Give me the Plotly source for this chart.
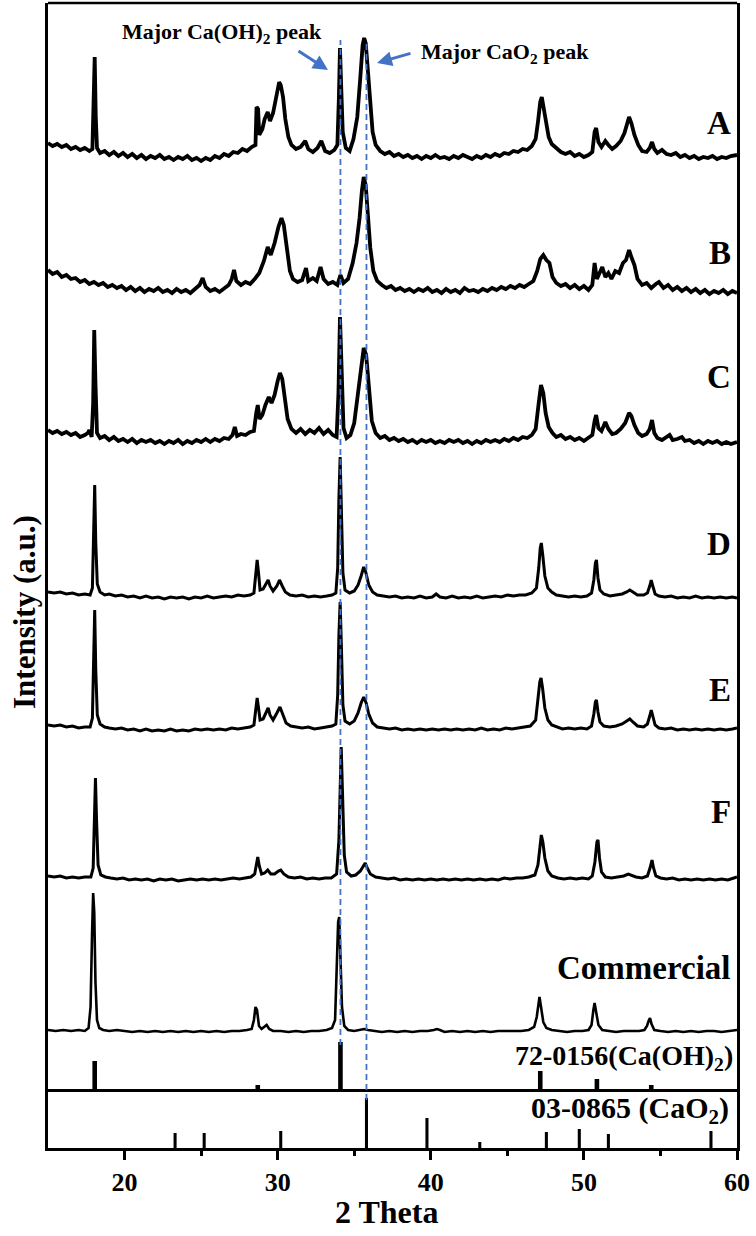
import plotly.graph_objects as go

# ---------------- data ----------------
NAMES = ["A", "B", "C", "D", "E", "F", "Commercial"]

A_pts = [(15.0,14),(15.3,11),(15.6,13),(15.9,10),(16.2,12),(16.5,8),(16.8,10),(17.1,7),(17.4,9),(17.7,6),(17.9,8),(17.98,45),(18.05,100),(18.12,40),(18.2,9),(18.4,4),(18.7,6),(19.0,2),(19.3,5),(19.6,1),(19.9,4),(20.2,0),(20.5,3),(20.8,-1),(21.1,2),(21.4,-2),(21.7,1),(22.0,-1),(22.3,2),(22.6,-2),(22.9,0),(23.2,-3),(23.5,0),(23.8,-2),(24.1,1),(24.4,-3),(24.7,-1),(25.0,-4),(25.3,-1),(25.6,-3),(25.9,1),(26.2,-1),(26.5,3),(26.8,1),(27.1,5),(27.4,4),(27.7,8),(28.0,6),(28.3,10),(28.55,12),(28.62,50),(28.72,48),(28.8,22),(29.0,28),(29.15,38),(29.35,45),(29.5,36),(29.7,44),(29.9,62),(30.1,75),(30.2,72),(30.35,60),(30.5,38),(30.7,20),(30.9,12),(31.2,8),(31.5,10),(31.8,16),(32.0,8),(32.3,5),(32.6,9),(32.85,16),(33.1,6),(33.4,4),(33.7,7),(33.9,12),(34.0,60),(34.07,109),(34.15,70),(34.25,25),(34.45,9),(34.7,6),(34.95,18),(35.2,40),(35.4,80),(35.55,112),(35.65,119),(35.75,114),(35.9,85),(36.05,50),(36.2,25),(36.4,12),(36.7,6),(37.0,3),(37.3,5),(37.6,1),(37.9,3),(38.2,0),(38.5,2),(38.8,-1),(39.1,1),(39.4,-2),(39.7,1),(40.0,-1),(40.3,2),(40.6,-1),(40.9,0),(41.2,-2),(41.5,1),(41.8,-1),(42.1,2),(42.4,0),(42.7,-2),(43.0,1),(43.3,-1),(43.6,2),(43.9,0),(44.2,3),(44.5,1),(44.8,4),(45.1,3),(45.4,6),(45.7,5),(46.0,8),(46.3,7),(46.6,11),(46.85,18),(47.0,35),(47.15,55),(47.25,60),(47.35,52),(47.5,35),(47.7,20),(47.9,13),(48.2,9),(48.5,5),(48.8,3),(49.1,5),(49.4,1),(49.7,3),(50.0,0),(50.3,2),(50.55,5),(50.7,25),(50.8,29),(50.95,15),(51.15,10),(51.4,16),(51.6,12),(51.85,8),(52.1,11),(52.4,16),(52.65,24),(52.85,35),(52.95,40),(53.1,34),(53.3,22),(53.55,12),(53.8,6),(54.1,5),(54.3,9),(54.45,15),(54.6,8),(54.8,4),(55.1,7),(55.4,3),(55.7,2),(56.0,4),(56.3,0),(56.6,2),(56.9,-1),(57.2,1),(57.5,-2),(57.8,0),(58.1,-1),(58.4,1),(58.7,-2),(59.0,0),(59.3,-1),(59.6,1),(60.0,2)]

B_pts = [(15.0,23),(15.3,19),(15.6,21),(15.9,16),(16.2,18),(16.5,14),(16.8,15),(17.1,11),(17.4,13),(17.7,9),(18.0,11),(18.3,8),(18.6,10),(18.9,6),(19.2,8),(19.5,5),(19.8,7),(20.1,3),(20.4,6),(20.7,2),(21.0,5),(21.3,1),(21.6,4),(21.9,2),(22.2,5),(22.5,1),(22.8,3),(23.1,0),(23.4,4),(23.7,1),(24.0,3),(24.3,0),(24.6,4),(24.9,8),(25.1,15),(25.3,6),(25.6,2),(25.9,4),(26.2,1),(26.5,5),(26.8,8),(27.0,14),(27.15,23),(27.3,12),(27.6,8),(27.9,11),(28.2,9),(28.5,14),(28.8,20),(29.1,32),(29.35,46),(29.55,38),(29.8,50),(30.05,66),(30.25,75),(30.4,68),(30.6,42),(30.8,22),(31.0,14),(31.3,11),(31.6,13),(31.85,25),(32.0,12),(32.3,15),(32.55,12),(32.8,26),(33.0,14),(33.3,9),(33.6,11),(33.9,8),(34.1,18),(34.3,10),(34.6,14),(34.9,30),(35.15,50),(35.35,75),(35.5,102),(35.62,116),(35.75,108),(35.9,80),(36.05,45),(36.25,22),(36.5,12),(36.8,8),(37.1,5),(37.4,7),(37.7,3),(38.0,5),(38.3,2),(38.6,4),(38.9,1),(39.2,4),(39.5,2),(39.8,5),(40.1,1),(40.4,3),(40.7,0),(41.0,4),(41.3,1),(41.6,3),(41.9,0),(42.2,5),(42.5,2),(42.8,3),(43.1,1),(43.4,4),(43.7,2),(44.0,5),(44.3,3),(44.6,6),(44.9,4),(45.2,7),(45.5,5),(45.8,8),(46.1,6),(46.4,9),(46.7,12),(46.95,22),(47.15,34),(47.35,38),(47.55,33),(47.75,30),(47.95,16),(48.2,10),(48.5,7),(48.8,9),(49.1,5),(49.4,8),(49.7,4),(50.0,7),(50.3,3),(50.55,8),(50.7,30),(50.85,14),(51.05,20),(51.2,26),(51.4,16),(51.6,20),(51.8,14),(52.05,22),(52.3,20),(52.55,30),(52.75,33),(52.95,43),(53.1,36),(53.3,28),(53.5,14),(53.8,8),(54.1,10),(54.4,5),(54.7,9),(54.9,11),(55.2,5),(55.5,8),(55.8,3),(56.1,6),(56.4,2),(56.7,5),(57.0,1),(57.3,4),(57.6,0),(57.9,3),(58.2,-1),(58.5,2),(58.8,0),(59.1,3),(59.4,-1),(59.7,2),(60.0,0)]

C_pts = [(15.0,13),(15.3,10),(15.6,12),(15.9,9),(16.2,11),(16.5,8),(16.8,10),(17.1,6),(17.4,8),(17.6,10),(17.7,13),(17.85,6),(17.95,40),(18.02,113),(18.1,60),(18.2,10),(18.4,5),(18.7,7),(19.0,3),(19.3,6),(19.6,2),(19.9,4),(20.2,1),(20.5,4),(20.8,0),(21.1,3),(21.4,1),(21.7,3),(22.0,0),(22.3,2),(22.6,-1),(22.9,2),(23.2,0),(23.5,3),(23.8,-1),(24.1,2),(24.4,0),(24.7,3),(25.0,1),(25.3,4),(25.6,1),(25.9,4),(26.2,2),(26.5,5),(26.8,4),(27.05,8),(27.2,16),(27.35,7),(27.6,9),(27.9,8),(28.2,11),(28.45,12),(28.6,30),(28.7,38),(28.82,24),(29.0,28),(29.2,38),(29.42,46),(29.6,40),(29.8,48),(30.0,62),(30.15,70),(30.3,64),(30.45,45),(30.65,24),(30.9,14),(31.2,10),(31.5,14),(31.8,9),(32.1,13),(32.4,10),(32.7,15),(33.0,9),(33.3,13),(33.6,8),(33.85,6),(33.97,50),(34.07,126),(34.17,70),(34.3,15),(34.5,5),(34.75,8),(35.0,20),(35.25,50),(35.45,80),(35.62,95),(35.78,88),(35.95,55),(36.15,22),(36.4,10),(36.7,5),(37.0,7),(37.3,3),(37.6,5),(37.9,2),(38.2,4),(38.5,1),(38.8,3),(39.1,0),(39.4,3),(39.7,1),(40.0,3),(40.3,0),(40.6,2),(40.9,0),(41.2,3),(41.5,1),(41.8,3),(42.1,0),(42.4,2),(42.7,-1),(43.0,2),(43.3,0),(43.6,3),(43.9,1),(44.2,3),(44.5,1),(44.8,4),(45.1,2),(45.4,5),(45.7,3),(46.0,6),(46.3,5),(46.6,8),(46.85,14),(47.05,40),(47.2,58),(47.35,50),(47.5,30),(47.7,16),(47.95,10),(48.2,6),(48.5,8),(48.8,4),(49.1,6),(49.4,3),(49.7,5),(50.0,2),(50.3,5),(50.55,8),(50.7,22),(50.8,28),(50.95,15),(51.15,12),(51.4,21),(51.6,14),(51.85,9),(52.1,10),(52.4,14),(52.7,20),(52.95,30),(53.1,27),(53.3,18),(53.55,10),(53.8,7),(54.1,9),(54.3,14),(54.45,23),(54.6,10),(54.8,5),(55.1,3),(55.4,6),(55.6,8),(55.8,3),(56.1,4),(56.4,6),(56.6,2),(56.9,3),(57.2,0),(57.5,2),(57.8,-1),(58.1,2),(58.4,0),(58.7,2),(59.0,-1),(59.3,1),(59.6,-1),(60.0,1)]

D_pts = [(15.0,6),(15.4,5),(15.8,6),(16.2,4),(16.6,5),(17.0,3),(17.4,4),(17.75,3),(17.9,10),(17.98,60),(18.05,113),(18.12,55),(18.22,14),(18.4,6),(18.7,3),(19.0,4),(19.4,2),(19.8,3),(20.2,1),(20.6,2),(21.0,0),(21.4,2),(21.8,0),(22.2,1),(22.6,-1),(23.0,1),(23.4,0),(23.8,1),(24.2,-1),(24.6,1),(25.0,0),(25.4,2),(25.8,0),(26.2,1),(26.6,2),(27.0,1),(27.4,3),(27.8,2),(28.2,3),(28.45,5),(28.58,25),(28.66,38),(28.75,25),(28.85,8),(29.05,9),(29.25,14),(29.38,18),(29.5,12),(29.7,7),(29.95,12),(30.12,18),(30.3,12),(30.5,6),(30.8,3),(31.2,2),(31.6,3),(32.0,1),(32.4,2),(32.8,1),(33.2,2),(33.55,3),(33.8,5),(33.92,30),(34.0,100),(34.08,141),(34.16,90),(34.26,25),(34.4,8),(34.7,5),(35.0,7),(35.25,13),(35.45,22),(35.62,31),(35.75,26),(35.95,13),(36.2,6),(36.5,3),(36.9,2),(37.3,1),(37.7,2),(38.1,0),(38.5,1),(38.9,0),(39.3,2),(39.7,0),(40.1,1),(40.35,4),(40.6,1),(41.0,0),(41.4,2),(41.8,0),(42.2,1),(42.6,0),(43.0,2),(43.4,0),(43.8,1),(44.2,2),(44.6,1),(45.0,3),(45.4,2),(45.8,3),(46.2,3),(46.6,5),(46.9,10),(47.05,30),(47.15,50),(47.22,55),(47.32,42),(47.45,22),(47.65,10),(47.9,6),(48.2,3),(48.6,2),(49.0,1),(49.4,2),(49.8,1),(50.2,2),(50.5,5),(50.65,18),(50.75,35),(50.82,38),(50.92,20),(51.05,8),(51.3,4),(51.7,2),(52.1,3),(52.5,4),(52.8,6),(53.0,8),(53.2,6),(53.5,3),(53.9,3),(54.15,5),(54.3,12),(54.4,18),(54.5,12),(54.65,4),(54.9,2),(55.3,1),(55.7,2),(56.1,0),(56.5,1),(56.9,0),(57.3,2),(57.7,0),(58.1,1),(58.5,0),(58.9,1),(59.3,0),(59.7,1),(60.0,0)]

E_pts = [(15.0,5),(15.4,4),(15.8,5),(16.2,3),(16.6,4),(17.0,2),(17.4,3),(17.75,3),(17.9,12),(17.98,70),(18.05,120),(18.12,60),(18.22,15),(18.4,6),(18.7,3),(19.0,2),(19.4,1),(19.8,2),(20.2,0),(20.6,1),(21.0,-1),(21.4,1),(21.8,-1),(22.2,0),(22.6,-1),(23.0,1),(23.4,-1),(23.8,0),(24.2,-1),(24.6,1),(25.0,0),(25.4,1),(25.8,0),(26.2,1),(26.6,0),(27.0,2),(27.4,1),(27.8,2),(28.2,3),(28.45,5),(28.58,22),(28.66,32),(28.75,22),(28.85,10),(29.05,11),(29.25,17),(29.38,22),(29.5,15),(29.7,10),(29.95,17),(30.15,23),(30.35,15),(30.55,7),(30.85,4),(31.2,3),(31.6,2),(32.0,3),(32.4,1),(32.8,2),(33.2,3),(33.55,4),(33.8,6),(33.92,35),(34.0,95),(34.08,128),(34.16,85),(34.26,25),(34.4,9),(34.7,6),(35.0,9),(35.25,17),(35.45,27),(35.62,33),(35.78,27),(35.95,16),(36.2,7),(36.5,3),(36.9,2),(37.3,1),(37.7,2),(38.1,0),(38.5,1),(38.9,0),(39.3,1),(39.7,0),(40.1,1),(40.5,0),(40.9,1),(41.3,0),(41.7,1),(42.1,0),(42.5,1),(42.9,0),(43.3,2),(43.7,0),(44.1,1),(44.5,0),(44.9,2),(45.3,1),(45.7,2),(46.1,3),(46.5,4),(46.85,10),(47.02,32),(47.12,48),(47.2,52),(47.3,42),(47.45,22),(47.65,10),(47.9,5),(48.2,3),(48.6,1),(49.0,2),(49.4,1),(49.8,2),(50.2,1),(50.5,4),(50.65,16),(50.75,28),(50.82,30),(50.92,18),(51.05,8),(51.3,4),(51.7,3),(52.1,4),(52.5,6),(52.8,9),(53.0,11),(53.2,8),(53.5,4),(53.9,3),(54.15,6),(54.3,14),(54.4,20),(54.5,14),(54.65,5),(54.9,2),(55.3,1),(55.7,2),(56.1,0),(56.5,1),(56.9,0),(57.3,1),(57.7,0),(58.1,1),(58.5,0),(58.9,1),(59.3,0),(59.7,1),(60.0,2)]

F_pts = [(15.0,4),(15.4,3),(15.8,4),(16.2,2),(16.6,3),(17.0,2),(17.4,3),(17.8,3),(17.95,12),(18.03,60),(18.1,102),(18.17,60),(18.27,15),(18.45,5),(18.75,3),(19.1,2),(19.5,1),(19.9,2),(20.3,0),(20.7,1),(21.1,0),(21.5,1),(21.9,-1),(22.3,1),(22.7,0),(23.1,1),(23.5,-1),(23.9,0),(24.3,1),(24.7,0),(25.1,1),(25.5,0),(25.9,1),(26.3,0),(26.7,1),(27.1,2),(27.5,1),(27.9,2),(28.25,3),(28.5,6),(28.62,18),(28.7,23),(28.8,14),(28.95,6),(29.15,7),(29.35,10),(29.55,6),(29.8,6),(30.05,9),(30.2,10),(30.4,6),(30.7,3),(31.1,2),(31.5,3),(31.9,1),(32.3,2),(32.7,1),(33.1,2),(33.5,2),(33.85,6),(34.0,40),(34.08,100),(34.15,133),(34.23,90),(34.35,25),(34.5,8),(34.8,4),(35.1,5),(35.4,9),(35.6,14),(35.72,17),(35.85,12),(36.05,6),(36.4,3),(36.8,2),(37.2,1),(37.6,2),(38.0,0),(38.4,1),(38.8,0),(39.2,1),(39.6,0),(40.0,1),(40.4,0),(40.8,1),(41.2,0),(41.6,1),(42.0,0),(42.4,1),(42.8,0),(43.2,1),(43.6,0),(44.0,1),(44.4,0),(44.8,2),(45.2,1),(45.6,2),(46.0,2),(46.4,3),(46.8,5),(47.0,15),(47.12,35),(47.22,45),(47.32,38),(47.45,22),(47.65,9),(47.9,4),(48.3,2),(48.7,1),(49.1,2),(49.5,1),(49.9,2),(50.3,1),(50.55,4),(50.72,18),(50.85,38),(50.92,40),(51.02,22),(51.15,8),(51.4,3),(51.8,2),(52.2,3),(52.6,4),(52.9,6),(53.1,5),(53.4,3),(53.8,2),(54.15,4),(54.32,12),(54.45,20),(54.55,12),(54.7,4),(55.0,2),(55.4,1),(55.8,2),(56.2,0),(56.6,1),(57.0,0),(57.4,1),(57.8,0),(58.2,1),(58.6,0),(59.0,1),(59.4,0),(59.8,2),(60.0,3)]

COM_pts = [(15.0,2),(15.5,1),(16.0,2),(16.5,1),(17.0,2),(17.4,1),(17.65,4),(17.78,25),(17.88,100),(17.95,139),(18.02,120),(18.1,50),(18.2,12),(18.35,4),(18.6,2),(19.0,1),(19.5,2),(20.0,1),(20.5,0),(21.0,1),(21.5,0),(22.0,1),(22.5,0),(23.0,1),(23.5,0),(24.0,1),(24.5,0),(25.0,1),(25.5,0),(26.0,1),(26.5,0),(27.0,1),(27.5,1),(28.0,2),(28.3,3),(28.45,12),(28.55,25),(28.65,22),(28.78,6),(28.95,3),(29.15,6),(29.28,7),(29.45,3),(29.7,1),(30.2,1),(30.7,0),(31.2,1),(31.7,0),(32.2,1),(32.7,1),(33.2,2),(33.55,4),(33.75,12),(33.86,60),(33.95,110),(34.02,115),(34.1,70),(34.2,25),(34.35,6),(34.6,2),(35.0,1),(35.4,2),(35.65,3),(35.9,2),(36.3,1),(36.8,0),(37.3,1),(37.8,0),(38.3,1),(38.8,0),(39.3,1),(39.8,1),(40.2,2),(40.4,3),(40.6,2),(40.9,0),(41.4,1),(41.9,0),(42.4,1),(42.9,0),(43.4,1),(43.9,0),(44.4,1),(44.9,1),(45.4,1),(45.9,1),(46.4,2),(46.75,5),(46.92,15),(47.02,30),(47.1,35),(47.2,25),(47.35,10),(47.55,4),(47.9,2),(48.4,1),(48.9,0),(49.4,1),(49.9,1),(50.3,2),(50.5,7),(50.62,22),(50.7,29),(50.8,20),(50.95,7),(51.2,2),(51.6,1),(52.1,0),(52.6,1),(53.1,1),(53.6,1),(53.95,2),(54.12,6),(54.25,12),(54.32,14),(54.42,8),(54.6,2),(55.0,1),(55.5,0),(56.0,1),(56.5,0),(57.0,1),(57.5,0),(58.0,1),(58.5,1),(59.0,0),(59.5,1),(60.0,2)]

SERIES = [A_pts, B_pts, C_pts, D_pts, E_pts, F_pts, COM_pts]
OFFSETS = [879, 743, 593, 438, 306, 156, 4]          # vertical stacking offsets (a.u.)

# reference patterns (relative intensity)
CAOH2_POS = [18.05, 28.7, 34.1, 47.15, 50.85, 54.4]
CAOH2_INT = [62, 14, 100, 42, 26, 14]
CAO2_POS = [23.3, 25.2, 30.2, 35.8, 39.75, 43.2, 47.55, 49.7, 51.6, 58.3]
CAO2_INT = [30, 30, 34, 100, 60, 12, 32, 38, 28, 34]

MAJOR_PEAKS = [34.1, 35.8]   # Ca(OH)2, CaO2
X_TICKS = [20, 30, 40, 50, 60]
X_MINOR = [25, 35, 45, 55]

# ---------------- figure ----------------
W, H = 756, 1236
ML, MR, MT, MB = 48, 19, 3, 88
PW, PH = W - ML - MR, H - MT - MB
def px(xp):  # pixel x -> paper
    return (xp - ML) / PW
def py(yp):  # pixel y -> paper
    return (H - MB - yp) / PH

FONT = "Liberation Serif"
BLUE = "#4472C4"
LW_AX = 2.5

fig = go.Figure()
widths = [3.8, 3.8, 3.8, 3.0, 3.0, 3.0, 2.6]
for name, pts, off, lw in zip(NAMES, SERIES, OFFSETS, widths):
    xs = [p[0] for p in pts]
    ys = [p[1] + off for p in pts]
    fig.add_trace(go.Scatter(x=xs, y=ys, mode="lines", name=name,
                             line=dict(color="black", width=lw),
                             xaxis="x", yaxis="y", hoverinfo="skip", showlegend=False))

fig.add_trace(go.Bar(x=CAOH2_POS, y=CAOH2_INT, width=0.3, marker=dict(color="black", line=dict(width=0)),
                     xaxis="x", yaxis="y2", showlegend=False, hoverinfo="skip"))
fig.add_trace(go.Bar(x=CAO2_POS, y=CAO2_INT, width=0.2, marker=dict(color="black", line=dict(width=0)),
                     xaxis="x", yaxis="y3", showlegend=False, hoverinfo="skip"))

d3 = py(1092)
d2 = py(1036)

common_y = dict(showline=True, linecolor="black", linewidth=LW_AX, mirror=True, ticks="",
                showticklabels=False, showgrid=False, zeroline=False, anchor="x")

fig.update_layout(
    width=W, height=H, margin=dict(l=ML, r=MR, t=MT, b=MB),
    paper_bgcolor="white", plot_bgcolor="white", barmode="overlay",
    xaxis=dict(range=[15, 60], domain=[0, 1], anchor="y3", showline=True, linecolor="black",
               linewidth=LW_AX, mirror=True, ticks="outside", ticklen=9, tickwidth=LW_AX,
               tickcolor="black", tickvals=X_TICKS, ticktext=["<b>%d</b>" % t for t in X_TICKS],
               tickfont=dict(family=FONT, size=26, color="black", weight="bold"),
               minor=dict(tickvals=X_MINOR, ticks="outside", ticklen=5,
                          tickwidth=LW_AX, tickcolor="black"),
               showgrid=False, zeroline=False),
    yaxis=dict(domain=[d2, 1], range=[0, 1033], **common_y),
    yaxis2=dict(domain=[d3, d2], range=[0, 112], **common_y),
    yaxis3=dict(domain=[0, d3], range=[0, 112], **common_y),
)

# top border of the frame
fig.add_shape(type="line", xref="paper", yref="paper", x0=0, x1=1, y0=1, y1=1,
              line=dict(color="black", width=LW_AX))

# dashed guide lines through the major peaks
fig.add_shape(type="line", xref="x", yref="paper", x0=MAJOR_PEAKS[0], x1=MAJOR_PEAKS[0],
              y0=py(1045), y1=py(40), line=dict(color=BLUE, width=1.8, dash="6px,4px"))
fig.add_shape(type="line", xref="x", yref="paper", x0=MAJOR_PEAKS[1], x1=MAJOR_PEAKS[1],
              y0=py(1100), y1=py(40), line=dict(color=BLUE, width=1.8, dash="6px,4px"))

ann = []
def label(text, xp, yp, size, xanchor="center", angle=0):
    ann.append(dict(text=text, xref="paper", yref="paper", x=px(xp), y=py(yp),
                    xanchor=xanchor, yanchor="middle", showarrow=False, textangle=angle,
                    font=dict(family=FONT, size=size, color="black")))

label("<b>Major Ca(OH)<sub>2</sub> peak</b>", 222, 33, 22)
label("<b>Major CaO<sub>2</sub> peak</b>", 505, 53, 22)
# arrows
ann.append(dict(text="", xref="paper", yref="paper", x=px(328), y=py(70), ax=-31, ay=-20,
                showarrow=True, arrowhead=2, arrowsize=1, arrowwidth=3, arrowcolor=BLUE))
ann.append(dict(text="", xref="paper", yref="paper", x=px(377), y=py(63), ax=35, ay=-10,
                showarrow=True, arrowhead=2, arrowsize=1, arrowwidth=3, arrowcolor=BLUE))

label_y = [123, 253, 377, 544, 690, 812, 968]
for name, yy in zip(NAMES, label_y):
    label("<b>%s</b>" % name, 733, yy, 33, xanchor="right")

label("<b>72-0156(Ca(OH)<sub>2</sub>)</b>", 735, 1057, 28, xanchor="right")
label("<b>03-0865 (CaO<sub>2</sub>)</b>", 731, 1110, 30, xanchor="right")

label("<b>2 Theta</b>", 386, 1212, 32)
label("<b>Intensity (a.u.)</b>", 24, 612, 31, angle=-90)

fig.update_layout(annotations=ann)
fig.write_html("out.html")
